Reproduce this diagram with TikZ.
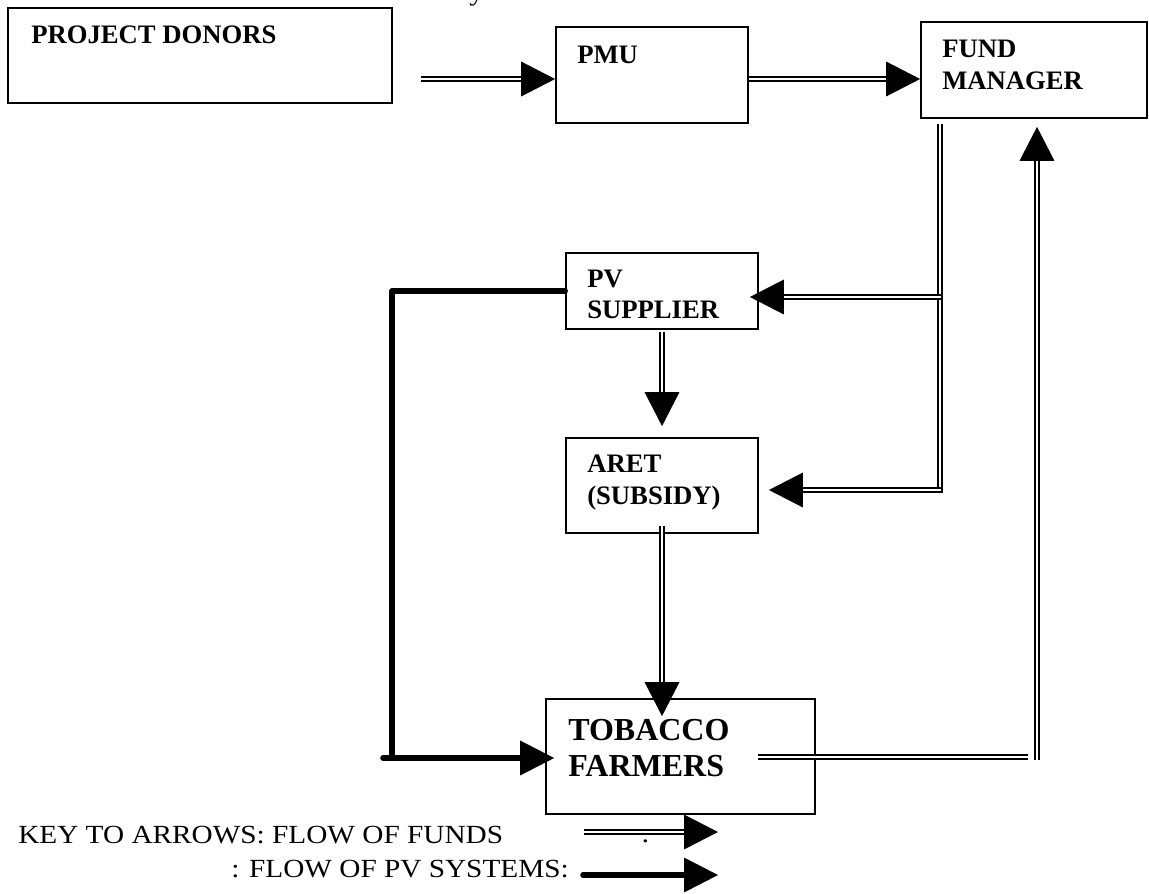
\documentclass[tikz,border=0pt]{standalone}
\usepackage{fontspec}
\setmainfont{Liberation Serif}
\newfontfamily\keyfont[FakeStretch=1.12]{Liberation Serif}
\usetikzlibrary{calc,decorations.markings}

\tikzset{
  box/.style={draw, line width=1.3pt, inner sep=0pt},
  boxtext/.style={anchor=base west, inner sep=0pt, font=\bfseries\fontsize{20pt}{24pt}\selectfont},
  bigtext/.style={anchor=base west, inner sep=0pt, font=\bfseries\fontsize{24pt}{28pt}\selectfont},
  keytext/.style={inner sep=0pt, font=\keyfont\fontsize{19.6pt}{24pt}\selectfont},
  funds/.style={line width=1.6pt, double, double distance=1.4pt},
  pvflow/.style={line width=4.2pt, line cap=round, line join=round},
  tip/.style={shorten >=14pt, postaction={decorate},
    decoration={markings, mark=at position 1 with {\fill (0pt,0pt) -- (-25.5pt,13.1pt) -- (-25.5pt,-13.1pt) -- cycle;}}},
}

\begin{document}
\begin{tikzpicture}[x=0.75pt, y=-0.75pt]
\useasboundingbox (0,0) rectangle (1149,893);

% tail of a letter from the line above
\begin{scope}
  \clip (0,0) rectangle (1149,893);
  \node[keytext, anchor=base west] (ytail) at (469,0) {y};
\end{scope}

% boxes
\node[box, minimum width=288pt, minimum height=71.25pt] (pd) at (200,55.5) {};
\node[box, minimum width=144pt, minimum height=72pt] (pmu) at (652,75) {};
\node[box, minimum width=169.5pt, minimum height=72pt] (fm) at (1034,70) {};
\node[box, minimum width=144pt, minimum height=57pt] (pv) at (662,291) {};
\node[box, minimum width=144pt, minimum height=71.25pt] (aret) at (662,485.5) {};
\node[box, minimum width=201.75pt, minimum height=86.25pt] (tf) at (680.5,756.5) {};

% box labels
\node[boxtext] (pdt) at (31,43) {PROJECT DONORS};
\node[boxtext] (pmut) at (577,63) {PMU};
\node[boxtext] (fmt1) at (942,57) {FUND};
\node[boxtext] (fmt2) at (942,89) {MANAGER};
\node[boxtext] (pvt1) at (587,287) {PV};
\node[boxtext] (pvt2) at (587,318) {SUPPLIER};
\node[boxtext] (arett1) at (587,472) {ARET};
\node[boxtext] (arett2) at (587,504) {(SUBSIDY)};
\node[bigtext] (tft1) at (568,740) {TOBACCO};
\node[bigtext] (tft2) at (568,776) {FARMERS};

% flow of funds
\coordinate (f0) at (421,79);
\draw[funds, tip] (f0) -- (pmu.west |- f0);
\draw[funds, tip] (pmu.east |- f0) -- (fm.west |- f0);

\coordinate (vtop) at (940,124);
\coordinate (vbot) at (940,493);
\coordinate (j1) at (941,297);
\coordinate (j2) at (941,490);
\draw[funds] (vtop) -- (vbot);
\draw[funds, tip] (j1) -- ($(pv.east |- j1)+(-9,0)$);
\draw[funds, tip] (j2) -- ($(aret.east |- j2)+(10,0)$);

\draw[funds, tip] ($(pv.south)+(0,2)$) -- ($(aret.north)+(0,-11)$);
\draw[funds, tip] ($(aret.south)+(0,-8)$) -- ($(aret.south |- tf.north)+(0,18)$);

\coordinate (r1) at (1028,757);
\coordinate (r2) at (1037,760);
\draw[funds] ($(tf.east |- r1)+(-58,0)$) -- (r1);
\draw[funds, tip] (r2) -- ($(fm.south -| r2)+(0,8)$);

% flow of PV systems
\coordinate (c1) at (392,290);
\coordinate (c2) at (392,758);
\coordinate (stub) at (383,758);
\draw[pvflow] (pv.west) -- (pv.west -| c1) -- (c2);
\draw[pvflow, tip] (stub) -- ($(tf.west |- c2)+(9,0)$);

% key
\node[keytext, anchor=base west] (key1) at (18,843) {KEY TO ARROWS: FLOW OF FUNDS};
\node[keytext, anchor=base east] (key2) at (569,877) {: FLOW OF PV SYSTEMS:};
\node[keytext, anchor=base west] (kcolon) at (641,842) {:};
\coordinate (k1s) at (584,832);
\coordinate (k1e) at (718,832);
\draw[funds, tip] (k1s) -- (k1e);
\coordinate (k2s) at (583,875);
\coordinate (k2e) at (718,875);
\draw[pvflow, tip] (k2s) -- (k2e);
\end{tikzpicture}
\end{document}
